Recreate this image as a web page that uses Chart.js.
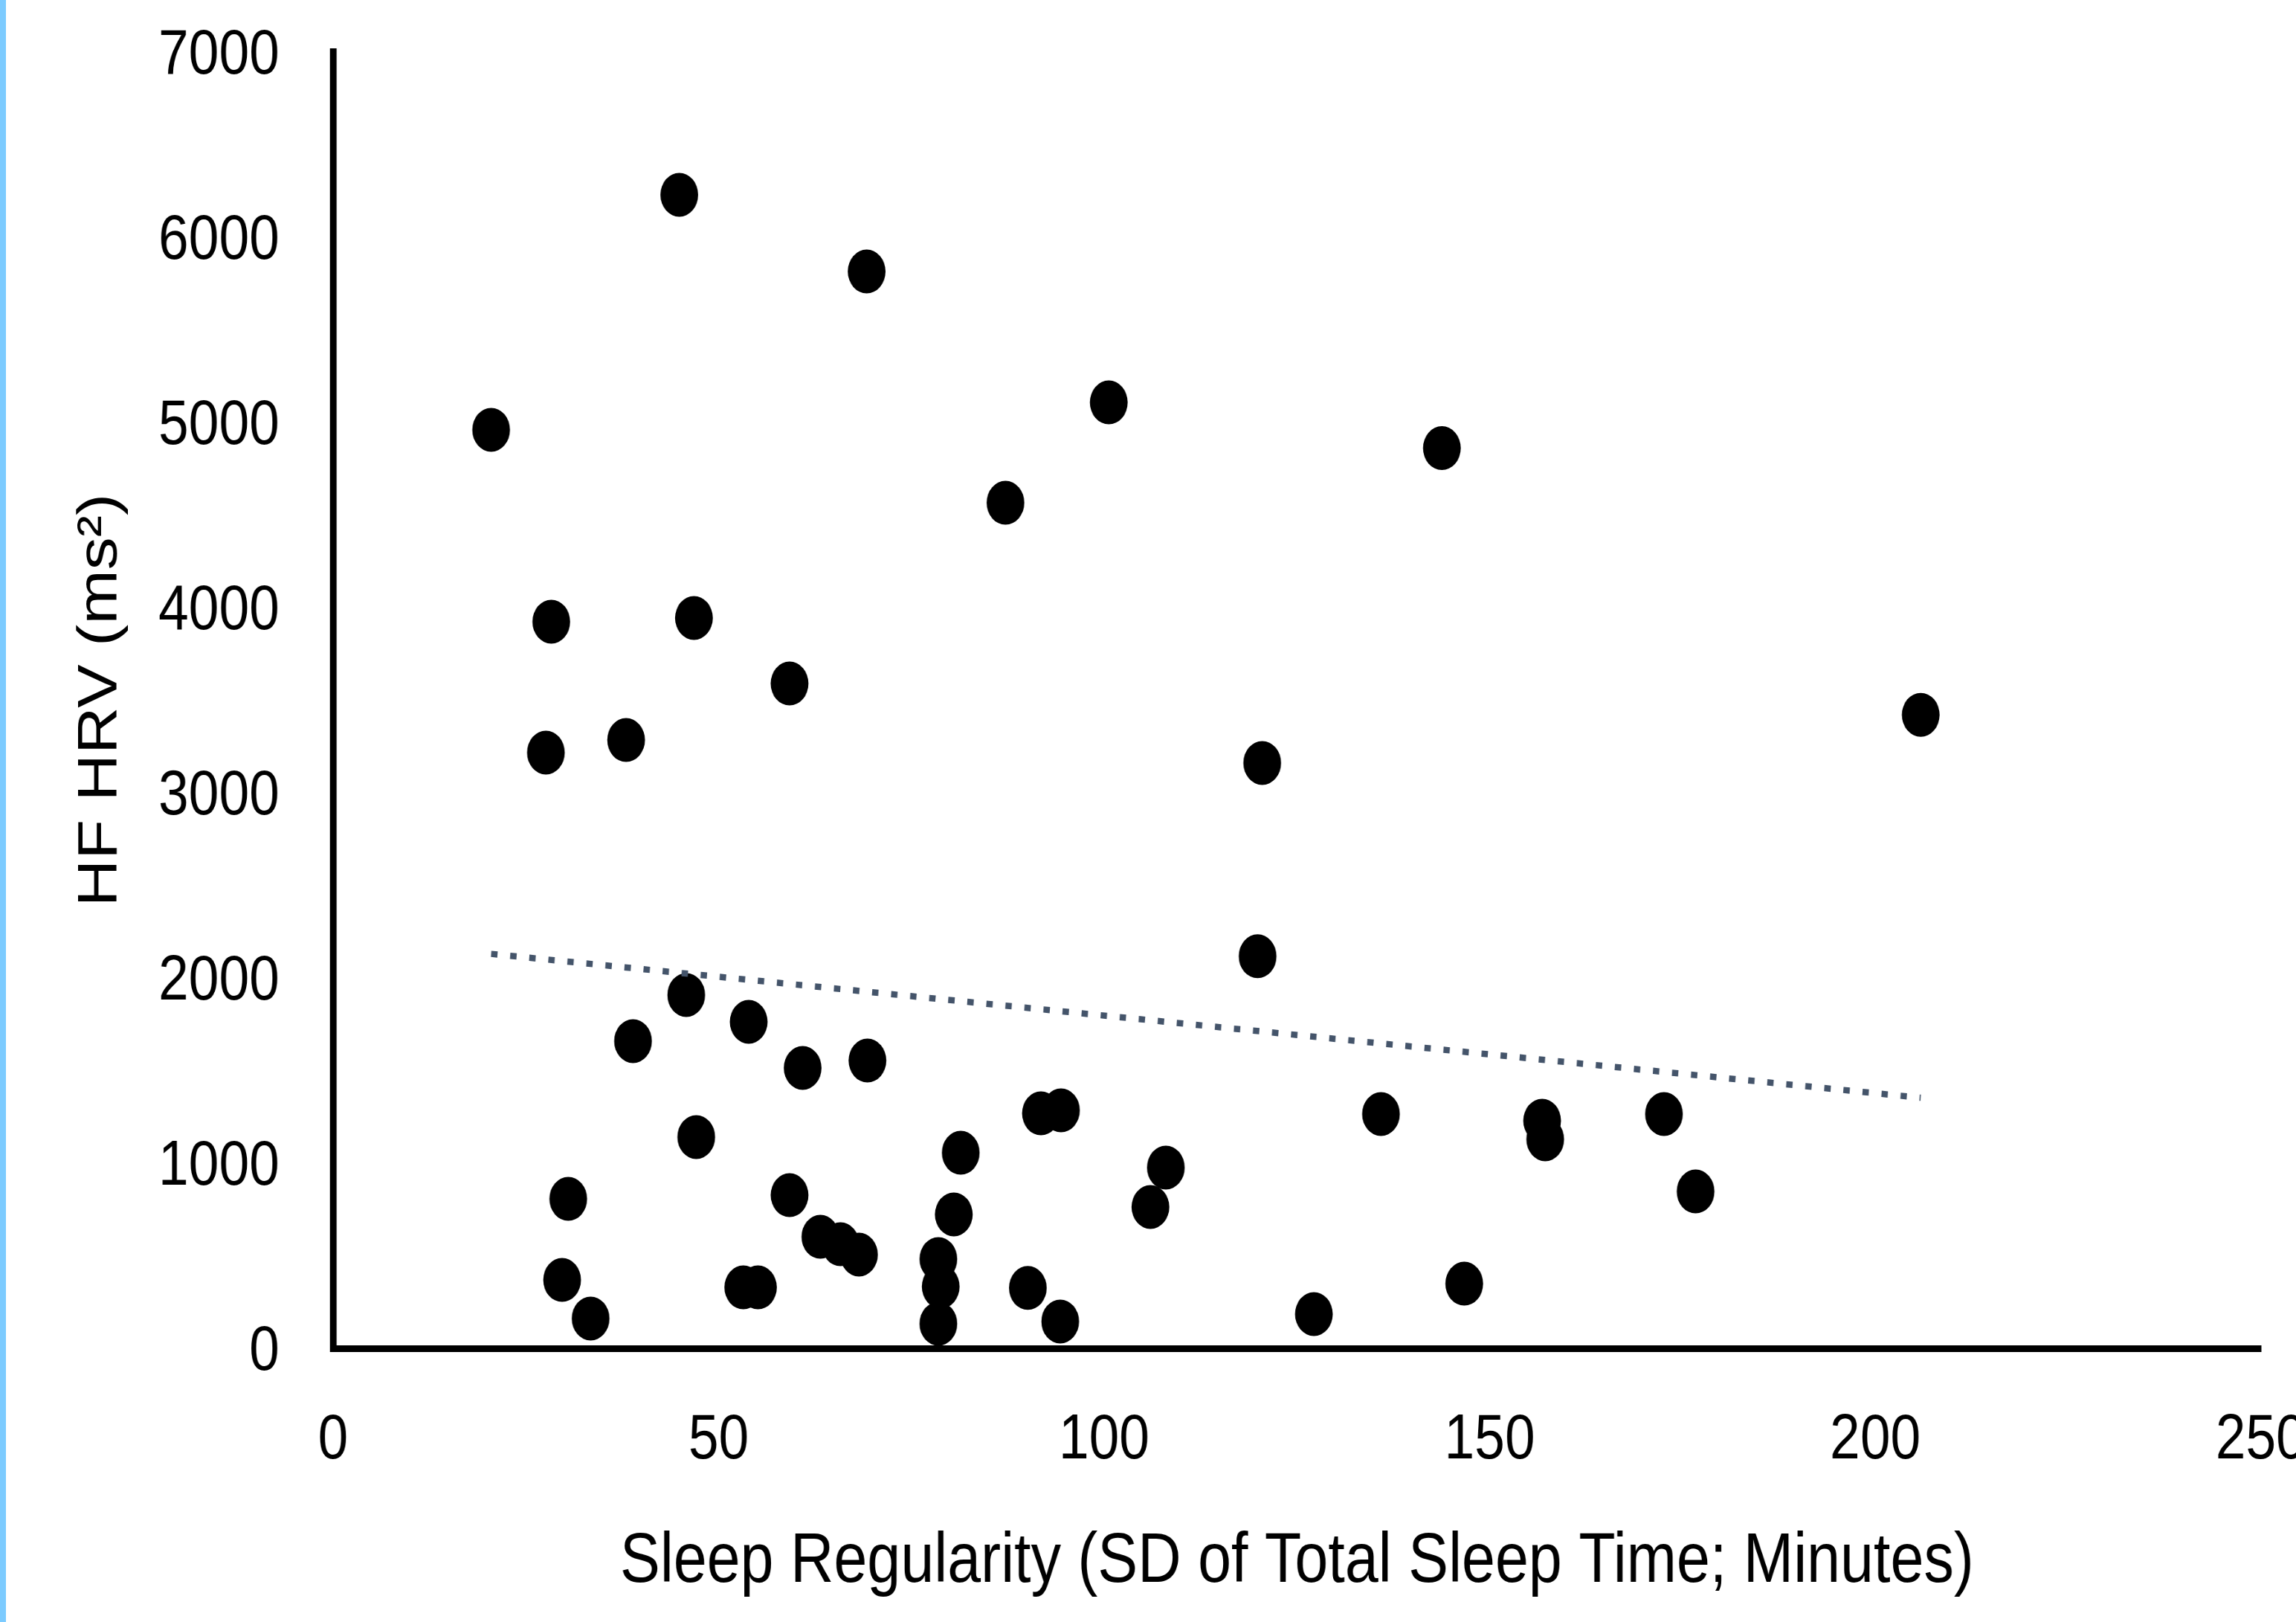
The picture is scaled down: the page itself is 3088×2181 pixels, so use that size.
<!DOCTYPE html>
<html>
<head>
<meta charset="utf-8">
<script src="https://cdn.jsdelivr.net/npm/chart.js@4/dist/chart.umd.min.js"></script>
<style>
  html, body { margin: 0; padding: 0; background: #ffffff; overflow: hidden; width: 3088px; height: 2181px; }
  #wrap { position: absolute; left: 0; top: 0; width: 3300px; height: 2181px; }
  #bar { position: absolute; left: 0; top: 0; width: 8px; height: 2181px; background: #7ccbff; z-index: 2; }
  canvas { display: block; }
</style>
</head>
<body>
<div id="wrap"><canvas id="c"></canvas></div>
<div id="bar"></div>
<script>
// ---- data ----
const sleepRegularity = [20.5, 44.9, 69.2, 100.6, 87.2, 143.8, 28.3, 46.8, 59.2, 27.6, 38.0, 120.5, 205.9, 119.9,
  45.8, 53.9, 38.9, 60.9, 69.3, 47.1, 91.8, 94.4, 135.9, 156.8, 157.2, 172.6, 81.4, 108.0, 30.5, 59.2, 80.5,
  106.0, 176.7, 63.2, 65.8, 68.2, 78.5, 78.8, 29.7, 33.4, 53.2, 55.1, 90.1, 78.5, 94.3, 127.2, 146.7];
const hfHrv = [4960, 6229, 5815, 5108, 4566, 4861, 3924, 3944, 3590, 3217, 3285, 3161, 3421, 2117,
  1908, 1763, 1659, 1514, 1554, 1141, 1269, 1285, 1265, 1229, 1129, 1265, 1056, 976, 807, 827, 723,
  763, 847, 602, 562, 506, 482, 333, 369, 161, 329, 329, 326, 133, 145, 185, 349];
const trendX = [20.5, 205.9];
const trendY = [2130, 1353];
const xTickValues = [0, 50, 100, 150, 200, 250];
const xTickLabels = ['0', '50', '100', '150', '200', '250'];
const yTickValues = [0, 1000, 2000, 3000, 4000, 5000, 6000, 7000];
const yTickLabels = ['0', '1000', '2000', '3000', '4000', '5000', '6000', '7000'];
const xTitle = 'Sleep Regularity (SD of Total Sleep Time; Minutes)';
const yTitle = 'HF HRV (ms\u00B2)';

// The reference picture is squeezed horizontally; the canvas is drawn wider
// and shown narrower by the same factor.
const SQUEEZE = 0.86;
const CANVAS_W = 3840, CANVAS_H = 2181;
const AREA_LEFT = 448 / SQUEEZE;     // x = 0 lands at 448 px on screen
const AREA_RIGHT = 3041 / SQUEEZE;   // x = 250 lands at 3041 px on screen
const AREA_TOP = 70, AREA_BOTTOM = 1813;

const canvas = document.getElementById('c');
canvas.width = CANVAS_W;
canvas.height = CANVAS_H;
canvas.style.width = (CANVAS_W * SQUEEZE) + 'px';
canvas.style.height = CANVAS_H + 'px';

const scatterPoints = sleepRegularity.map((x, i) => ({ x: x, y: hfHrv[i] }));
const trendPoints = trendX.map((x, i) => ({ x: x, y: trendY[i] }));

const sansFamily = "'Liberation Sans', Arial, sans-serif";
const zeroPad = s => { s.paddingTop = 0; s.paddingBottom = 0; s.paddingLeft = 0; s.paddingRight = 0; };

new Chart(canvas, {
  type: 'scatter',
  data: {
    datasets: [
      {
        type: 'line',
        data: trendPoints,
        borderColor: '#44546A',
        borderWidth: 8.5,
        borderDash: [10, 19.9],
        borderCapStyle: 'butt',
        pointRadius: 0,
        fill: false,
        order: 1
      },
      {
        data: scatterPoints,
        pointStyle: 'circle',
        pointRadius: 29.5,
        borderWidth: 0,
        backgroundColor: '#000000',
        borderColor: '#000000',
        order: 2
      }
    ]
  },
  options: {
    responsive: false,
    animation: false,
    devicePixelRatio: 1,
    layout: { padding: { left: 0, top: AREA_TOP, right: CANVAS_W - AREA_RIGHT, bottom: 0 } },
    plugins: { legend: { display: false }, tooltip: { enabled: false } },
    scales: {
      x: {
        type: 'linear',
        min: 0, max: 250,
        afterBuildTicks: s => { s.ticks = xTickValues.map(v => ({ value: v })); },
        afterFit: s => { s.height = CANVAS_H - AREA_BOTTOM; zeroPad(s); },
        grid: { display: false, drawTicks: false },
        border: { display: true, color: '#000000', width: 9 },
        ticks: {
          color: '#000000', font: { family: sansFamily, size: 85 }, padding: 74,
          maxRotation: 0, autoSkip: false,
          callback: (v, i) => xTickLabels[i]
        },
        title: {
          display: true, text: xTitle, color: '#000000',
          font: { family: sansFamily, size: 94 },
          padding: { top: 0, bottom: 24 }
        }
      },
      y: {
        type: 'linear',
        min: 0, max: 7000,
        afterBuildTicks: s => { s.ticks = yTickValues.map(v => ({ value: v })); },
        afterFit: s => { s.width = AREA_LEFT; zeroPad(s); },
        grid: { display: false, drawTicks: false },
        border: { display: true, color: '#000000', width: 10.5 },
        ticks: {
          color: '#000000', font: { family: sansFamily, size: 85 }, padding: 84,
          labelOffset: 6, autoSkip: false,
          callback: (v, i) => yTickLabels[i]
        },
        title: {
          display: true, text: yTitle, color: '#000000',
          font: { family: sansFamily, size: 88 },
          padding: { top: 105, bottom: 0 }
        }
      }
    }
  }
});
</script>
</body>
</html>
